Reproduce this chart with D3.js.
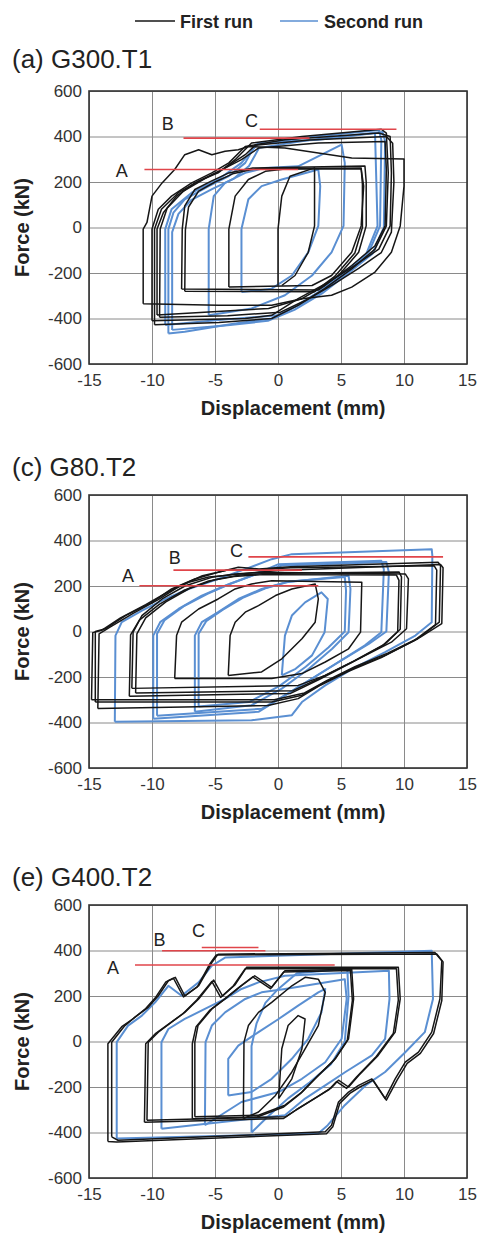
<!DOCTYPE html>
<html>
<head>
<meta charset="utf-8">
<script src="https://cdn.jsdelivr.net/npm/d3@7"></script>
<style>
  body { margin: 0; background: #fff; }
  svg { font-family: "Liberation Sans", Arial, Helvetica, sans-serif; }
  .tick text { fill: #333; font-size: 17px; }
  .grid line { stroke: #8a8a8a; stroke-width: 1; }
  .ttl { font-size: 26px; fill: #222; }
  .axt { font-size: 20px; font-weight: bold; fill: #222; }
  .leg { font-size: 18px; font-weight: bold; fill: #222; }
</style>
</head>
<body>
<div id="chart"></div>
<script>
// axis ticks
var dispTicks = [-15, -10, -5, 0, 5, 10, 15];
var forceTicks = [-600, -400, -200, 0, 200, 400, 600];
var panelTitles = ['(a) G300.T1', '(c) G80.T2', '(e) G400.T2'];

// hysteresis loops [displacement mm, force kN], one array per cycle
var g300First = [
  [[0,-255],[0,-7],[0.3,138],[0.95,225],[2.9,262],[2.9,182],[2.9,7],[2.4,-109],[1.35,-211],[0.3,-255]],
  [[-3.9,-262],[-3.9,-7],[-3.4,138],[-2.35,211],[-1,247],[0.55,257],[6.6,257],[6.8,182],[6.6,7],[5.85,-109],[4.25,-211],[2.7,-255],[-3.9,-262]],
  [[-7.65,-270],[-7.6,-7],[-7.4,95],[-6.6,167],[-5.3,204],[-3.9,240],[-2,262],[6.9,270],[7,200],[7,7],[6.4,-109],[4.8,-211],[3.2,-275],[-7.65,-270]],
  [[-7.4,-280],[-7.35,-10],[-7.1,90],[-6.3,160],[-5,200],[-3.6,236],[-1.8,258],[6.6,262],[6.7,190],[6.7,0],[6.1,-112],[4.5,-215],[2.9,-282],[-7.4,-280]],
  [[-9.6,-385],[-9.6,-7],[-9.1,65],[-8.05,138],[-6.6,196],[-4.7,247],[-2.9,298],[-1.55,349],[3.2,371],[8.5,378],[8.6,255],[8.5,7],[7.7,-80],[5.85,-167],[3.7,-255],[1.9,-313],[-0.75,-356],[-9.6,-385]],
  [[-10,-410],[-10,-7],[-9.5,80],[-8.45,138],[-6.85,196],[-5.25,240],[-3.9,284],[-2.6,356],[0.55,386],[8,415],[8.9,400],[9,240],[8.9,7],[8,-95],[6.1,-167],[4,-240],[1.6,-313],[-0.5,-386],[-2.6,-400],[-10,-410]],
  [[-10.7,-335],[-10.7,-7],[-10.4,22],[-10,138],[-9.2,196],[-8.2,255],[-7.4,320],[-6.3,342],[-5.25,320],[-4.2,335],[-3.15,342],[-2.35,356],[0.55,349],[5.85,306],[10,301],[10,182],[9.7,7],[9,-109],[7.7,-196],[5.85,-262],[4.25,-298],[1.9,-313],[-0.5,-342],[-4.7,-342],[-10.7,-335]],
  [[-9.8,-428],[-9.8,-7],[-9.25,80],[-7.9,153],[-6.3,204],[-4.75,240],[-3.4,298],[-2.1,371],[1.9,400],[8.2,432],[8.6,415],[8.75,240],[8.6,7],[7.7,-95],[5.85,-182],[3.7,-269],[1.6,-342],[-0.5,-400],[-4.7,-418],[-9.8,-428]],
  [[-9.4,-395],[-9.35,-7],[-8.8,85],[-7.5,160],[-5.8,215],[-4.2,262],[-2.6,320],[-1.8,362],[2.5,385],[8.6,400],[9.1,370],[9.2,200],[9,-20],[8.2,-110],[6.4,-180],[4.4,-250],[2.2,-320],[0.2,-372],[-4,-388],[-9.4,-395]]
];
var g300Second = [
  [[-8.7,-466],[-8.7,-7],[-8.3,65],[-7.4,124],[-5.5,182],[-3.9,226],[-2.6,284],[-1.8,364],[1.9,393],[8,429],[8.2,386],[8.1,7],[7.2,-109],[5.3,-196],[3.2,-284],[1.1,-356],[-0.5,-400],[-3.4,-422],[-7.4,-458],[-8.7,-466]],
  [[-8.95,-429],[-8.95,-7],[-8.45,80],[-6.85,153],[-4.75,211],[-2.9,284],[-1.55,371],[3.2,386],[7.7,415],[7.9,7],[6.95,-124],[4.8,-226],[2.7,-313],[0,-386],[-4.7,-407],[-8.95,-429]],
  [[-8.4,-450],[-8.4,-20],[-7.9,60],[-6.9,120],[-5.2,170],[-3.5,215],[-2.3,270],[-1.5,350],[2.5,385],[8.3,420],[8.5,380],[8.4,0],[7.5,-115],[5.6,-200],[3.5,-290],[1.3,-362],[-0.8,-410],[-4,-430],[-8.4,-450]],
  [[-5.5,-386],[-5.5,-7],[-5.1,138],[-4.2,196],[-2.6,240],[-1.05,262],[1.6,269],[5.05,364],[5.3,284],[5.2,7],[4.25,-109],[2.7,-211],[0.55,-298],[-2.1,-356],[-5.5,-386]],
  [[-2.9,-284],[-2.9,-7],[-2.35,124],[-1.3,182],[0.3,211],[3.2,255],[3.35,182],[3.2,7],[2.4,-109],[1.1,-211],[-0.5,-269],[-2.9,-284]]
];

var g80First = [
  [[-3.95,-193],[-3.8,-18],[-3.4,41],[-2.6,85],[-1.55,114],[-0.2,158],[1.1,187],[2.95,209],[3.2,143],[2.95,41],[1.9,-32],[0.3,-120],[-1.3,-178],[-3.95,-193]],
  [[-8.2,-207],[-8.05,-18],[-7.65,41],[-6.3,99],[-4.75,143],[-3.4,187],[-2.1,209],[-0.5,223],[6.65,216],[6.55,-3],[5.6,-76],[3.75,-134],[1.9,-185],[-0.5,-207],[-8.2,-207]],
  [[-11.6,-250],[-11.5,-3],[-10.8,70],[-9.2,143],[-7.35,201],[-5.25,238],[-3.4,253],[-1.55,260],[10.1,253],[10.35,231],[10.2,12],[9,-47],[6.4,-120],[3.75,-193],[1.6,-237],[-11.6,-250]],
  [[-11.3,-270],[-11.2,-10],[-10.5,60],[-8.9,130],[-7,190],[-5,228],[-3,248],[-1,255],[9.6,262],[9.8,240],[9.7,10],[8.5,-55],[6,-130],[3.5,-200],[1.2,-260],[-11.3,-270]],
  [[-11.8,-285],[-11.7,-15],[-11,50],[-9.4,120],[-7.5,180],[-5.5,222],[-3.5,242],[-1.2,250],[9.4,248],[9.6,225],[9.5,0],[8.3,-62],[5.8,-138],[3.3,-210],[1,-272],[-11.8,-285]],
  [[-14.5,-310],[-14.5,0],[-13.7,12],[-12.1,70],[-10,128],[-8.45,187],[-6.6,231],[-4.75,260],[-3.15,282],[-1.5,275],[1,285],[12.7,304],[12.9,290],[12.8,41],[11.1,-32],[8.5,-105],[5.9,-164],[3.75,-222],[1.9,-280],[-0.5,-310],[-14.5,-310]],
  [[-14.3,-339],[-14.2,-10],[-13.3,20],[-11.5,80],[-9.5,140],[-7.8,200],[-6,245],[-4,270],[-2,270],[1,280],[12.4,289],[12.6,270],[12.5,30],[10.8,-40],[8.2,-115],[5.6,-175],[3.4,-235],[1.6,-295],[-0.8,-325],[-14.3,-339]],
  [[-14.8,-300],[-14.7,-5],[-14,5],[-12.5,60],[-10.5,118],[-8.6,178],[-7,218],[-5.5,240],[-3.5,250],[0,268],[12.9,295],[13.1,280],[13,35],[11.3,-25],[8.7,-95],[6.1,-155],[3.9,-215],[2.1,-270],[-0.3,-300],[-14.8,-300]]
];
var g80Second = [
  [[-12.95,-397],[-12.9,-18],[-12.4,41],[-10.8,92],[-8.95,143],[-7.1,187],[-4.75,231],[-2.6,274],[-0.5,318],[1.1,340],[12.2,362],[12.25,333],[12.2,41],[10.9,-18],[8.5,-91],[5.9,-164],[3.75,-237],[1.9,-310],[1.1,-368],[-2.1,-390],[-12.95,-397]],
  [[-9.9,-383],[-9.9,-18],[-9.35,41],[-7.9,99],[-6.05,158],[-4.2,201],[-2.1,245],[0.05,296],[8.2,311],[8.4,274],[8.2,-3],[6.9,-61],[4.8,-134],[2.7,-207],[0.6,-280],[-1.55,-353],[-9.9,-383]],
  [[-9.6,-370],[-9.6,-10],[-9,50],[-7.5,110],[-5.6,165],[-3.8,210],[-1.8,250],[0.3,290],[8.6,305],[8.8,260],[8.6,0],[7.2,-55],[5,-128],[2.9,-200],[0.8,-272],[-1.3,-340],[-9.6,-370]],
  [[-6.6,-353],[-6.6,-18],[-6.05,41],[-4.75,85],[-3.15,143],[-1.3,187],[0.6,216],[5.6,245],[5.75,187],[5.6,-3],[4.3,-76],[2.45,-164],[0.3,-251],[-2.1,-324],[-6.6,-353]],
  [[-6.3,-330],[-6.3,-10],[-5.7,45],[-4.4,95],[-2.8,148],[-1,190],[0.9,220],[5.3,240],[5.4,180],[5.3,0],[4,-70],[2.2,-155],[0.1,-240],[-2.3,-310],[-6.3,-330]],
  [[0.3,-193],[0.55,-18],[1.1,70],[2.15,128],[3.45,172],[3.95,143],[3.7,-3],[2.7,-105],[1.4,-164],[0.3,-193]]
];

var g400First = [
  [[0.05,-251],[0.3,-32],[0.8,70],[1.6,114],[2.15,99],[1.9,-32],[1.1,-164],[0.05,-251]],
  [[-2.75,-339],[-2.7,-3],[-2.35,70],[-1.55,128],[-0.5,172],[1.1,245],[2.15,282],[3.2,274],[3.75,216],[3.2,70],[2.15,-32],[1.1,-134],[-0.2,-237],[-1.55,-310],[-2.75,-339]],
  [[-6.6,-331],[-6.6,-3],[-6.35,70],[-5.25,143],[-4.2,187],[-2.9,245],[-1.85,289],[-0.5,238],[0.55,311],[5.85,318],[6,187],[5.6,12],[4.55,-76],[3.2,-149],[1.9,-222],[0.55,-280],[-1.55,-324],[-6.6,-331]],
  [[-6.8,-340],[-6.8,-10],[-6.5,65],[-5.4,138],[-4.35,182],[-3.05,240],[-2,284],[-0.6,232],[0.45,306],[5.75,312],[5.9,180],[5.5,5],[4.45,-82],[3.1,-155],[1.8,-228],[0.45,-288],[-1.65,-332],[-6.8,-340]],
  [[-10.4,-346],[-10.3,-3],[-9.5,41],[-8.45,85],[-7.4,128],[-6.3,187],[-5.1,270],[-4.4,200],[-3.4,250],[-2.5,326],[9.55,326],[9.7,187],[9.3,41],[7.95,-61],[6.4,-149],[5.6,-200],[4.8,-170],[4.2,-205],[3.2,-240],[1.6,-295],[0.6,-331],[-10.4,-346]],
  [[-10.6,-355],[-10.5,-10],[-9.7,36],[-8.6,80],[-7.55,122],[-6.45,182],[-5.25,264],[-4.55,194],[-3.55,244],[-2.6,320],[9.4,320],[9.55,182],[9.15,35],[7.8,-66],[6.25,-155],[5.45,-206],[4.65,-176],[4.05,-211],[3.05,-246],[1.45,-300],[0.45,-338],[-10.6,-355]],
  [[-13.2,-419],[-13.2,-3],[-12.15,70],[-11.35,107],[-10.3,150],[-9.5,201],[-8.7,267],[-8.15,282],[-7.4,201],[-6.3,245],[-5.25,347],[-4.75,384],[12.45,391],[13,355],[12.85,187],[12.2,41],[11.15,-47],[10.1,-91],[9.3,-164],[8.5,-251],[7.45,-164],[6.4,-193],[5.6,-222],[4.8,-266],[4.25,-368],[3.75,-397],[-12.7,-434],[-13.2,-419]],
  [[-13.5,-440],[-13.5,-10],[-12.4,65],[-11.5,100],[-10.5,145],[-9.7,195],[-8.9,262],[-8.3,278],[-7.5,196],[-6.4,240],[-5.4,342],[-4.9,380],[12.6,385],[13.1,350],[13,180],[12.35,35],[11.3,-52],[10.25,-96],[9.45,-170],[8.6,-258],[7.55,-170],[6.5,-200],[5.7,-228],[4.9,-272],[4.35,-375],[3.85,-405],[-12.8,-442],[-13.5,-440]]
];
var g400Second = [
  [[-12.8,-426],[-12.8,-3],[-11.9,70],[-10.8,114],[-9.75,172],[-8.7,245],[-7.65,201],[-6.3,260],[-5.25,333],[-4.2,369],[12.2,399],[12.3,187],[11.65,41],[10.1,-47],[8.5,-134],[6.95,-193],[5.3,-280],[3.95,-368],[3.2,-404],[-12.8,-426]],
  [[-9.25,-383],[-9.25,-3],[-8.7,55],[-7.4,99],[-5.8,143],[-4.2,187],[-2.9,231],[-1.55,260],[0.55,289],[8.8,311],[8.85,187],[8.5,12],[7.45,-61],[5.35,-134],[3.75,-193],[2.15,-251],[0.55,-324],[-9.25,-383]],
  [[-5.8,-368],[-5.75,-3],[-5.25,70],[-4.2,128],[-2.6,187],[-1.3,216],[0.55,231],[5.3,274],[5.45,187],[5.05,12],[3.75,-91],[1.9,-164],[0.05,-222],[-2.9,-266],[-5.8,-368]],
  [[-2.1,-400],[-2.1,-20],[-1.7,80],[-1,170],[0,230],[1.5,300],[5.5,320],[5.6,200],[5.3,0],[4.2,-100],[2.5,-180],[0.8,-250],[-0.8,-330],[-2.1,-400]],
  [[-3.95,-237],[-3.95,-76],[-3.15,-18],[-1.55,41],[0.05,99],[1.6,158],[3.2,216],[3.75,231],[3.45,128],[2.4,12],[1.1,-76],[-0.5,-164],[-2.1,-222],[-3.95,-237]]
];

// red force levels: label, force, x from, x to, label x, label y
var g300Levels = [['A',255,-10.6,1.6,-12.4,252],['B',393,-7.5,2.5,-8.75,455],['C',432,-1.45,9.4,-2.1,470]];
var g80Levels = [['A',201,-11,3.2,-11.9,248],['B',270,-8.3,1.9,-8.2,326],['C',328,-2.35,13.1,-3.3,355]];
var g400Levels = [['A',336,-11.35,4.5,-13.1,325],['B',399,-9.2,-1,-9.4,450],['C',413,-6.05,-1.55,-6.3,486]];

var panels = [
  {title: panelTitles[0], titleY: 68, top: 91, first: g300First, second: g300Second, levels: g300Levels},
  {title: panelTitles[1], titleY: 476, top: 495, first: g80First, second: g80Second, levels: g80Levels},
  {title: panelTitles[2], titleY: 886, top: 905, first: g400First, second: g400Second, levels: g400Levels}
];

var W = 479, H = 1237;
var left = 89, pw = 378, ph = 273;
var black = '#161616', blue = '#5a8fd2', red = '#e0454a';
var fmt = function(d){ return String(d); }; // plain hyphen minus like the original

var svg = d3.select('#chart').append('svg')
  .attr('width', W).attr('height', H);

// legend
var leg = svg.append('g');
leg.append('line').attr('x1', 135).attr('x2', 175).attr('y1', 21).attr('y2', 21)
  .attr('stroke', black).attr('stroke-width', 1.3);
leg.append('text').attr('class', 'leg').attr('x', 180).attr('y', 28).text('First run');
leg.append('line').attr('x1', 280).attr('x2', 318).attr('y1', 21).attr('y2', 21)
  .attr('stroke', blue).attr('stroke-width', 1.3);
leg.append('text').attr('class', 'leg').attr('x', 324).attr('y', 28).text('Second run');

var x = d3.scaleLinear().domain([-15, 15]).range([0, pw]);
var y = d3.scaleLinear().domain([-600, 600]).range([ph, 0]);
var line = d3.line().x(function(d){ return x(d[0]); }).y(function(d){ return y(d[1]); });

panels.forEach(function(p) {
  svg.append('text').attr('class', 'ttl').attr('x', 12).attr('y', p.titleY).text(p.title);

  var g = svg.append('g').attr('transform', 'translate(' + left + ',' + p.top + ')');

  // grid
  g.append('g').attr('class', 'grid')
    .call(d3.axisBottom(x).tickValues(dispTicks).tickSize(ph).tickFormat(''))
    .call(function(s){ s.select('.domain').remove(); });
  g.append('g').attr('class', 'grid')
    .call(d3.axisLeft(y).tickValues(forceTicks).tickSize(-pw).tickFormat(''))
    .call(function(s){ s.select('.domain').remove(); });

  // tick labels
  g.append('g').attr('transform', 'translate(0,' + ph + ')')
    .call(d3.axisBottom(x).tickValues(dispTicks).tickSize(0).tickPadding(10).tickFormat(fmt))
    .call(function(s){ s.select('.domain').remove(); });
  g.append('g')
    .call(d3.axisLeft(y).tickValues(forceTicks).tickSize(0).tickPadding(7).tickFormat(fmt))
    .call(function(s){ s.select('.domain').remove(); });

  // loops: second run under first run
  var loops = g.append('g');
  loops.selectAll('path.s').data(p.second).enter().append('path')
    .attr('d', line).attr('fill', 'none').attr('stroke', blue)
    .attr('stroke-width', 2).attr('stroke-linejoin', 'round');
  loops.selectAll('path.f').data(p.first).enter().append('path')
    .attr('d', line).attr('fill', 'none').attr('stroke', black)
    .attr('stroke-width', 1.5).attr('stroke-linejoin', 'round');

  // red levels
  g.selectAll('line.lv').data(p.levels).enter().append('line')
    .attr('x1', function(d){ return x(d[2]); }).attr('x2', function(d){ return x(d[3]); })
    .attr('y1', function(d){ return y(d[1]); }).attr('y2', function(d){ return y(d[1]); })
    .attr('stroke', red).attr('stroke-width', 1.6);
  g.selectAll('text.lv').data(p.levels).enter().append('text')
    .attr('x', function(d){ return x(d[4]); }).attr('y', function(d){ return y(d[5]); })
    .attr('dy', '0.36em').attr('text-anchor', 'middle')
    .style('font-size', '18px').style('fill', '#222')
    .text(function(d){ return d[0]; });

  // frame
  g.append('rect').attr('width', pw).attr('height', ph)
    .attr('fill', 'none').attr('stroke', '#333').attr('stroke-width', 1.6);

  // axis titles
  g.append('text').attr('class', 'axt').attr('text-anchor', 'middle')
    .attr('x', x(1.2)).attr('y', ph + 51).text('Displacement (mm)');
  g.append('text').attr('class', 'axt').attr('text-anchor', 'middle')
    .attr('transform', 'translate(' + (-60) + ',' + y(0) + ') rotate(-90)')
    .text('Force (kN)');
});
</script>
</body>
</html>
